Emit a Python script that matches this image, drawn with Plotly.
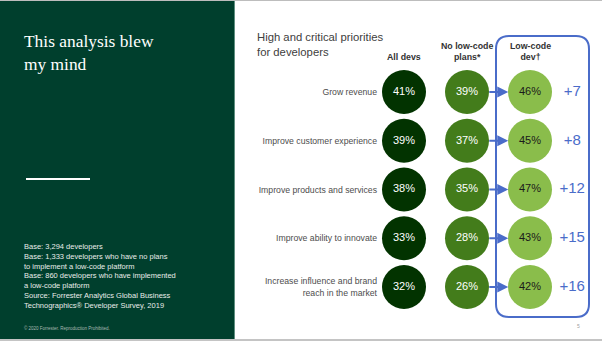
import plotly.graph_objects as go

# ---- data ----
rows = ["Grow revenue", "Improve customer experience", "Improve products and services",
        "Improve ability to innovate", "Increase influence and brand<br>reach in the market"]
columns = ["All devs", "No low-code<br>plans*", "Low-code<br>dev\u2020"]
all_devs = [41, 39, 38, 33, 32]
no_low_code = [39, 37, 35, 28, 26]
low_code = [46, 45, 47, 43, 42]
deltas = [l - n for l, n in zip(low_code, no_low_code)]

title_left = "This analysis blew<br>my mind"
chart_title = "High and critical priorities<br>for developers"
base_notes = ["Base: 3,294 developers",
              "Base: 1,333 developers who have no plans",
              "to implement a low-code platform",
              "Base: 860 developers who have implemented",
              "a low-code platform",
              "Source: Forrester Analytics Global Business",
              "Technographics\u00ae Developer Survey, 2019"]
copyright_text = "\u00a9 2020 Forrester. Reproduction Prohibited."
page_num = "5"

# ---- styles ----
W, H = 602, 341
PANEL = "#003f2d"
COLS = ["#023300", "#437c1b", "#8abd4b"]
TXT_COLS = ["white", "white", "#1a1a1a"]
BLUE = "#4a6cc9"
FONT = "Liberation Sans, Arial, sans-serif"

def px(x):
    return x / W

def py(y):
    return 1 - y / H

fig = go.Figure()
series = [all_devs, no_low_code, low_code]
for ci, vals in enumerate(series):
    fig.add_trace(go.Scatter(
        x=[ci] * len(rows), y=rows, mode="markers+text",
        marker=dict(size=44, color=COLS[ci], line=dict(width=0)),
        text=[f"{v}%" for v in vals], textposition="middle center",
        textfont=dict(size=11, color=TXT_COLS[ci], family=FONT),
        hoverinfo="skip", showlegend=False, cliponaxis=False))

fig.add_trace(go.Scatter(
    x=[2.67] * len(rows), y=rows, mode="text",
    text=[f"+{d}" for d in deltas], textposition="middle center",
    textfont=dict(size=15, color=BLUE, family=FONT),
    hoverinfo="skip", showlegend=False, cliponaxis=False))

shapes = []
# left panel
shapes.append(dict(type="rect", xref="paper", yref="paper", x0=0, x1=px(235), y0=py(339), y1=py(1),
                   fillcolor=PANEL, line=dict(width=0), layer="below"))
shapes.append(dict(type="line", xref="paper", yref="paper", x0=px(234.5), x1=px(234.5), y0=py(339), y1=py(1),
                   line=dict(color="#5f8f80", width=1), layer="below"))
# top / bottom grey lines
shapes.append(dict(type="rect", xref="paper", yref="paper", x0=0, x1=1, y0=py(1), y1=1,
                   fillcolor="#bdbdbd", line=dict(width=0), layer="below"))
shapes.append(dict(type="rect", xref="paper", yref="paper", x0=0, x1=1, y0=0, y1=py(339),
                   fillcolor="#c4c4c4", line=dict(width=0), layer="below"))
# white divider line
shapes.append(dict(type="line", xref="paper", yref="paper", x0=px(26), x1=px(90), y0=py(179), y1=py(179),
                   line=dict(color="white", width=2)))
# rounded box
x0, x1, y0, y1, r = 496, 589, 36, 317, 13
path = (f"M {px(x0+r)},{py(y0)} L {px(x1-r)},{py(y0)} Q {px(x1)},{py(y0)} {px(x1)},{py(y0+r)} "
        f"L {px(x1)},{py(y1-r)} Q {px(x1)},{py(y1)} {px(x1-r)},{py(y1)} "
        f"L {px(x0+r)},{py(y1)} Q {px(x0)},{py(y1)} {px(x0)},{py(y1-r)} "
        f"L {px(x0)},{py(y0+r)} Q {px(x0)},{py(y0)} {px(x0+r)},{py(y0)} Z")
shapes.append(dict(type="path", xref="paper", yref="paper", path=path,
                   line=dict(color=BLUE, width=2), layer="below"))

ann = []
# arrows
for i in range(len(rows)):
    ann.append(dict(x=2 - 0.345, y=i, ax=1 + 0.33, ay=i, xref="x", yref="y", axref="x", ayref="y",
                    text="", showarrow=True, arrowhead=2, arrowsize=1.0, arrowwidth=2.2,
                    arrowcolor=BLUE))
# column headers
for ci, c in enumerate(columns):
    ann.append(dict(x=ci, y=py(64), xref="x", yref="paper", text=f"<b>{c}</b>", showarrow=False,
                    xanchor="center", yanchor="bottom", align="center",
                    font=dict(size=8.8, color="#333333", family=FONT)))
# chart title
ann.append(dict(x=px(255), y=py(29), xref="paper", yref="paper", text=chart_title, showarrow=False,
                xanchor="left", yanchor="top", align="left",
                font=dict(size=11.3, color="#404040", family=FONT)))
# left title
ann.append(dict(x=px(22), y=py(29), xref="paper", yref="paper", text=title_left, showarrow=False,
                xanchor="left", yanchor="top", align="left",
                font=dict(size=17.4, color="white", family="Liberation Serif, Times New Roman, serif")))
# base notes
ann.append(dict(x=px(22), y=py(240), xref="paper", yref="paper", text="<br>".join(base_notes),
                showarrow=False, xanchor="left", yanchor="top", align="left",
                font=dict(size=7.5, color="#e8ece9", family=FONT)))
ann.append(dict(x=px(22), y=py(328), xref="paper", yref="paper", text=copyright_text,
                showarrow=False, xanchor="left", yanchor="middle", align="left",
                font=dict(size=4.5, color="#a9bab2", family=FONT)))
ann.append(dict(x=px(578), y=py(326), xref="paper", yref="paper", text=page_num,
                showarrow=False, xanchor="center", yanchor="middle",
                font=dict(size=5, color="#a0a0a0", family=FONT)))

sp_x = 63.0
x_left = -404 / sp_x
x_right = (W - 404) / sp_x
sp_y = 48.75
y_top = -92 / sp_y
y_bot = (H - 92) / sp_y

fig.update_layout(
    width=W, height=H, margin=dict(l=0, r=0, t=0, b=0),
    paper_bgcolor="white", plot_bgcolor="rgba(0,0,0,0)",
    shapes=shapes, annotations=ann,
    xaxis=dict(range=[x_left, x_right], domain=[0, 1], visible=False, fixedrange=True),
    yaxis=dict(type="category", categoryorder="array", categoryarray=rows,
               range=[y_bot, y_top], domain=[0, 1], anchor="free", position=px(377),
               showgrid=False, zeroline=False, showline=False, ticks="",
               tickfont=dict(size=8.7, color="#4d4d4d", family=FONT), fixedrange=True),
)

fig.write_html("out.html")
